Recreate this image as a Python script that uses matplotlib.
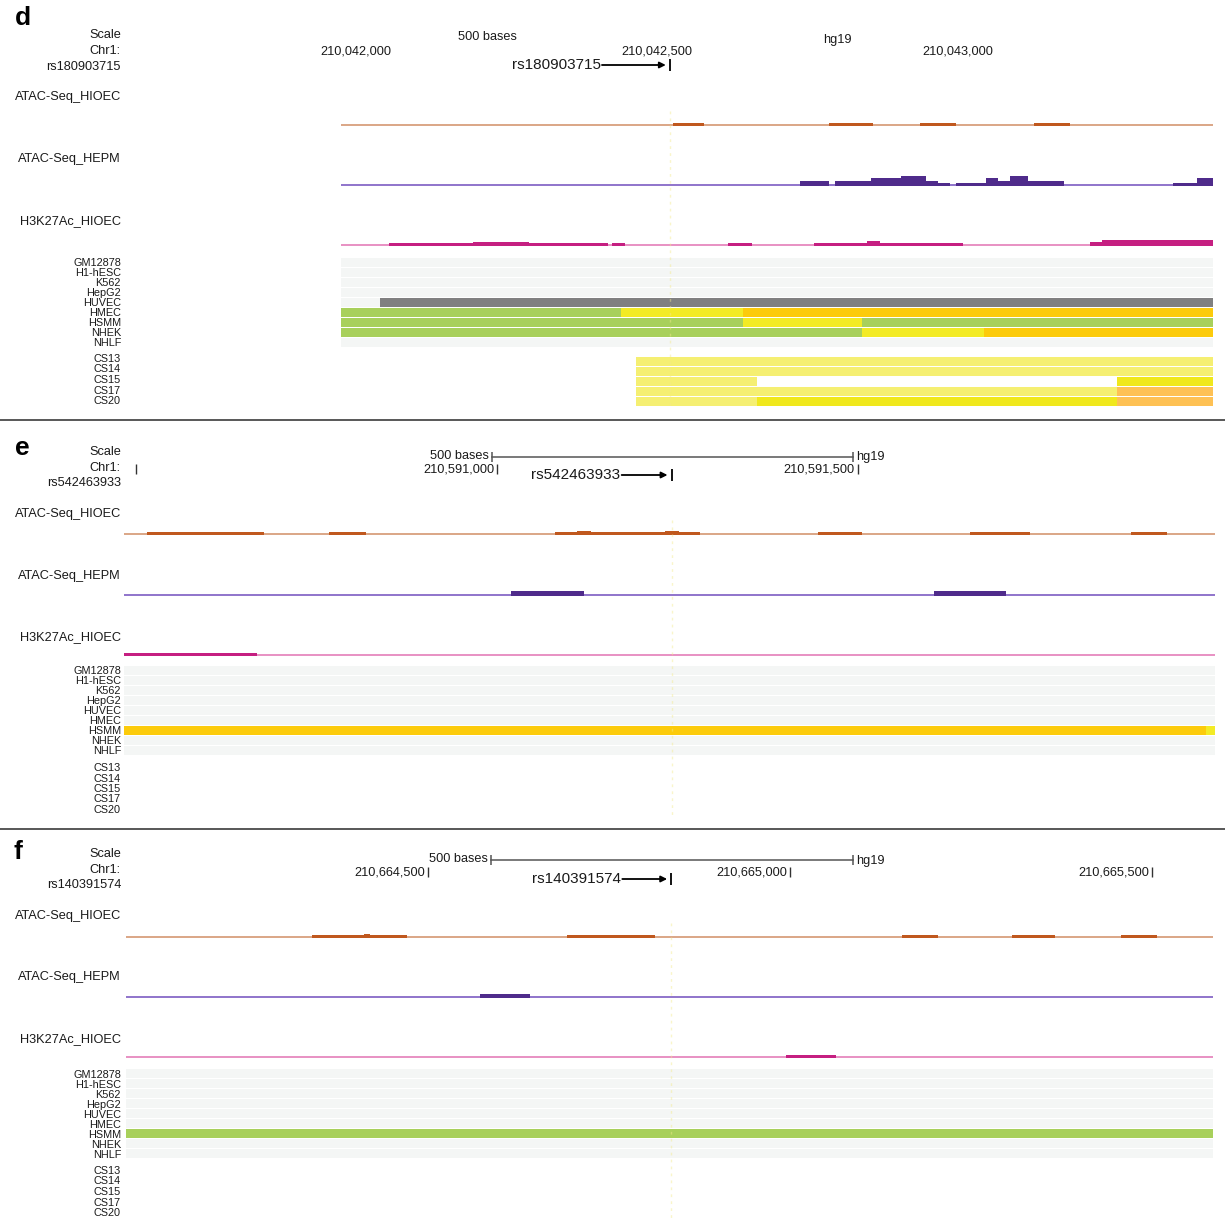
import matplotlib
matplotlib.use("Agg")
import matplotlib.pyplot as plt
from matplotlib.transforms import offset_copy

plt.rcParams["font.family"] = ["Liberation Sans", "DejaVu Sans"]

W, H, DPI = 1225, 1221, 100

# ---------------- data (hg19, chr1) ----------------
cell_lines = ["GM12878", "H1-hESC", "K562", "HepG2", "HUVEC", "HMEC", "HSMM", "NHEK", "NHLF"]
cs_stages = ["CS13", "CS14", "CS15", "CS17", "CS20"]
track_names = ["ATAC-Seq_HIOEC", "ATAC-Seq_HEPM", "H3K27Ac_HIOEC"]

state_colors = {
    "Heterochrom": "#f4f6f5",
    "Repressed": "#808080",
    "WeakTxn": "#a8d05b",
    "WeakEnh": "#f3eb25",
    "StrongEnh": "#fccb0b",
    "CS_EnhWeak": "#f5ef72",
    "CS_Enh": "#f0e81c",
    "CS_EnhStrong": "#fec154",
}
# (baseline colour, signal colour)
track_colors = {
    "ATAC-Seq_HIOEC": ("#dba686", "#c0581e"),
    "ATAC-Seq_HEPM": ("#8f74cb", "#4f2b8b"),
    "H3K27Ac_HIOEC": ("#e890c3", "#c51f81"),
}

# panel d : rs180903715
d_view = (210041975, 210043425)
d_snp = ("rs180903715", 210042522)
d_ticks = [210042000, 210042500, 210043000]
d_scalebar = (210042272, 210042772)
d_hioec = [(210042527, 210042578, 2), (210042787, 210042860, 2),
           (210042937, 210042998, 2), (210043128, 210043188, 2)]
d_hepm = [(210042738, 210042787, 4), (210042797, 210042857, 4), (210042857, 210042907, 6.7),
          (210042907, 210042947, 9.3), (210042947, 210042967, 4), (210042967, 210042987, 2.3),
          (210042998, 210043048, 2.3), (210043048, 210043068, 6.7), (210043068, 210043088, 4),
          (210043088, 210043118, 9.3), (210043118, 210043178, 4), (210043359, 210043399, 2.3),
          (210043399, 210043425, 6.7)]
d_h3k27ac = [(210042055, 210042194, 2), (210042194, 210042287, 3), (210042287, 210042419, 2),
             (210042425, 210042448, 2), (210042618, 210042658, 2), (210042761, 210042849, 2),
             (210042849, 210042872, 4), (210042872, 210043010, 2), (210043221, 210043241, 3),
             (210043241, 210043425, 5)]
d_encode = [("HUVEC", 210042040, 210043425, "Repressed"),
            ("HMEC", 210041975, 210042440, "WeakTxn"), ("HMEC", 210042440, 210042643, "WeakEnh"),
            ("HMEC", 210042643, 210043425, "StrongEnh"),
            ("HSMM", 210041975, 210042643, "WeakTxn"), ("HSMM", 210042643, 210042842, "WeakEnh"),
            ("HSMM", 210042842, 210043425, "WeakTxn"),
            ("NHEK", 210041975, 210042842, "WeakTxn"), ("NHEK", 210042842, 210043045, "WeakEnh"),
            ("NHEK", 210043045, 210043425, "StrongEnh")]
d_cs = [("CS13", 210042465, 210043425, "CS_EnhWeak"),
        ("CS14", 210042465, 210043425, "CS_EnhWeak"),
        ("CS15", 210042465, 210042666, "CS_EnhWeak"), ("CS15", 210043266, 210043425, "CS_Enh"),
        ("CS17", 210042465, 210043266, "CS_EnhWeak"), ("CS17", 210043266, 210043425, "CS_EnhStrong"),
        ("CS20", 210042465, 210042666, "CS_EnhWeak"), ("CS20", 210042666, 210043266, "CS_Enh"),
        ("CS20", 210043266, 210043425, "CS_EnhStrong")]

# panel e : rs542463933
e_view = (210590483, 210591995)
e_snp = ("rs542463933", 210591242)
e_ticks = [210590500, 210591000, 210591500]
e_scalebar = (210590993, 210591493)
e_hioec = [(210590515, 210590677, 2), (210590767, 210590819, 2), (210591080, 210591111, 2),
           (210591111, 210591130, 3.5), (210591130, 210591233, 2), (210591233, 210591252, 3.5),
           (210591252, 210591281, 2), (210591445, 210591506, 2), (210591656, 210591738, 2),
           (210591879, 210591929, 2)]
e_hepm = [(210591019, 210591120, 4), (210591605, 210591705, 4)]
e_h3k27ac = [(210590483, 210590668, 2)]
e_encode = [("HSMM", 210590483, 210591983, "StrongEnh"), ("HSMM", 210591983, 210591995, "WeakEnh")]
e_cs = []

# panel f : rs140391574
f_view = (210664083, 210665584)
f_snp = ("rs140391574", 210664836)
f_ticks = [210664500, 210665000, 210665500]
f_scalebar = (210664587, 210665087)
f_hioec = [(210664340, 210664412, 2), (210664412, 210664420, 3), (210664420, 210664471, 2),
           (210664692, 210664813, 2), (210665155, 210665204, 2), (210665306, 210665366, 2),
           (210665457, 210665507, 2)]
f_hepm = [(210664572, 210664641, 3)]
f_h3k27ac = [(210664994, 210665063, 2)]
f_encode = [("HSMM", 210664083, 210665584, "WeakTxn")]
f_cs = []

panels = [
    dict(tag="d", view=d_view, snp=d_snp, ticks=d_ticks, bar=d_scalebar,
         tracks=[d_hioec, d_hepm, d_h3k27ac], encode=d_encode, cs=d_cs),
    dict(tag="e", view=e_view, snp=e_snp, ticks=e_ticks, bar=e_scalebar,
         tracks=[e_hioec, e_hepm, e_h3k27ac], encode=e_encode, cs=e_cs),
    dict(tag="f", view=f_view, snp=f_snp, ticks=f_ticks, bar=f_scalebar,
         tracks=[f_hioec, f_hepm, f_h3k27ac], encode=f_encode, cs=f_cs),
]

# ---------------- layout (pixels, y down) ----------------
layout = {
    "d": dict(x=(341, 1213), y=(0, 420), letter=(15, 18), header=(35, 51, 67),
              bar_y=38, hg_y=40, tick_y=51, tick_style="center", snp_y=65, arrow_px=68,
              show_bar=False, tracks=[(97, 125), (159, 185), (221, 245)], rows=257.5, cs=356.5),
    "e": dict(x=(124, 1215), y=(420, 829), letter=(15, 448), header=(452, 468, 483),
              bar_y=457, hg_y=457, tick_y=469, tick_style="left", snp_y=475, arrow_px=50,
              show_bar=True, tracks=[(514, 534), (576, 595), (637, 655)], rows=666, cs=765.5),
    "f": dict(x=(126, 1213), y=(829, 1221), letter=(13, 852), header=(854, 870, 885),
              bar_y=860, hg_y=861, tick_y=872, tick_style="left", snp_y=879, arrow_px=49,
              show_bar=True, tracks=[(916, 937), (977, 997), (1039, 1057)], rows=1069, cs=1168.5),
}
LABEL_X = 121
FS = 9.2
ROW_FS = 7.8
RULER = "#555555"
TXT = "#1a1a1a"

fig = plt.figure(figsize=(W / DPI, H / DPI), dpi=DPI)
base = fig.add_axes([0, 0, 1, 1])
base.set_xlim(0, W)
base.set_ylim(H, 0)
base.axis("off")


def shifted(ax, dx):
    return offset_copy(ax.transData, fig=fig, x=dx, y=0, units="dots")


for p in panels:
    L = layout[p["tag"]]
    x0, x1 = L["x"]
    yt, yb = L["y"]
    start, end = p["view"]
    ax = fig.add_axes([x0 / W, 1 - yb / H, (x1 - x0) / W, (yb - yt) / H])
    ax.set_xlim(start, end)
    ax.set_ylim(yb, yt)
    ax.axis("off")
    to_px = lambda bp: x0 + (bp - start) / (end - start) * (x1 - x0)

    # header
    base.text(L["letter"][0], L["letter"][1], p["tag"], fontsize=19, fontweight="bold",
              ha="left", va="center", color="black")
    for txt, y in zip(["Scale", "Chr1:", p["snp"][0]], L["header"]):
        base.text(LABEL_X, y, txt, ha="right", va="center", fontsize=FS, color=TXT)

    bs, be = p["bar"]
    if L["show_bar"]:
        ax.plot([bs, be], [L["bar_y"], L["bar_y"]], color=RULER, lw=1.1, clip_on=False)
        ax.vlines([bs, be], L["bar_y"] - 5, L["bar_y"] + 5, color=RULER, lw=1.1, clip_on=False)
    ax.text(bs, L["bar_y"] - 1, "500 bases", transform=shifted(ax, -3), ha="right", va="center",
            fontsize=FS, color=TXT)
    ax.text(be, L["hg_y"], "hg19", transform=shifted(ax, 3), ha="left", va="center",
            fontsize=FS, color=TXT)

    for t in p["ticks"]:
        if L["tick_style"] == "center":
            ax.text(t, L["tick_y"], f"{t:,}", ha="center", va="center", fontsize=FS, color=TXT)
        else:
            ax.vlines(t, L["tick_y"] - 5, L["tick_y"] + 5, color="#333333", lw=1.0, clip_on=False)
            if to_px(t) - 78 > x0:
                ax.text(t, L["tick_y"], f"{t:,}", transform=shifted(ax, -3), ha="right",
                        va="center", fontsize=FS, color=TXT)

    # SNP
    name, pos = p["snp"]
    sy = L["snp_y"]
    arrow_pt = L["arrow_px"] * 72 / DPI
    ax.vlines(pos, sy - 6, sy + 6, color="black", lw=1.3, clip_on=False)
    ax.annotate("", xy=(pos, sy), xytext=(-arrow_pt, 0), textcoords="offset points",
                arrowprops=dict(arrowstyle="-|>", color="black", lw=1.3, shrinkA=0, shrinkB=3,
                                mutation_scale=9), annotation_clip=False)
    ax.annotate(name, xy=(pos, sy), xytext=(-arrow_pt - 1, 0), textcoords="offset points",
                ha="right", va="center", fontsize=11, color=TXT, annotation_clip=False)

    # signal tracks
    for tname, peaks, (ly, by) in zip(track_names, p["tracks"], L["tracks"]):
        light, dark = track_colors[tname]
        base.text(LABEL_X, ly, tname, ha="right", va="center", fontsize=FS, color=TXT)
        ax.plot([start, end], [by, by], color=light, lw=1.4, solid_capstyle="butt", zorder=2)
        for s, e, h in peaks:
            ax.bar(s, -(h + 0.8), width=e - s, bottom=by + 0.8, align="edge", color=dark,
                   linewidth=0, zorder=3)

    # chromatin states (ENCODE cell lines)
    for i, cl in enumerate(cell_lines):
        top = L["rows"] + 10 * i
        ax.broken_barh([(start, end - start)], (top, 9), facecolors=state_colors["Heterochrom"],
                       zorder=2)
        base.text(LABEL_X, top + 5.5, cl, ha="right", va="center", fontsize=ROW_FS, color=TXT)
    for row, s, e, st in p["encode"]:
        i = cell_lines.index(row)
        ax.broken_barh([(s, e - s)], (L["rows"] + 10 * i, 9), facecolors=state_colors[st], zorder=3)

    # chromatin states (craniofacial stages)
    for i, cs in enumerate(cs_stages):
        base.text(LABEL_X, L["cs"] + 10.5 * i + 2.5, cs, ha="right", va="center", fontsize=ROW_FS,
                  color=TXT)
    for row, s, e, st in p["cs"]:
        i = cs_stages.index(row)
        ax.broken_barh([(s, e - s)], (L["cs"] + 10 * i, 9), facecolors=state_colors[st], zorder=3)

    # SNP highlight
    ax.vlines(pos, L["tracks"][0][1] - 14, L["cs"] + 50, color="#f3e98c", lw=1.0,
              linestyles=(0, (2, 3)), alpha=0.45, zorder=4)

base.hlines([420, 829], 0, W, color="#4a4a4a", lw=1.3)

fig.savefig("out.png", dpi=DPI)
